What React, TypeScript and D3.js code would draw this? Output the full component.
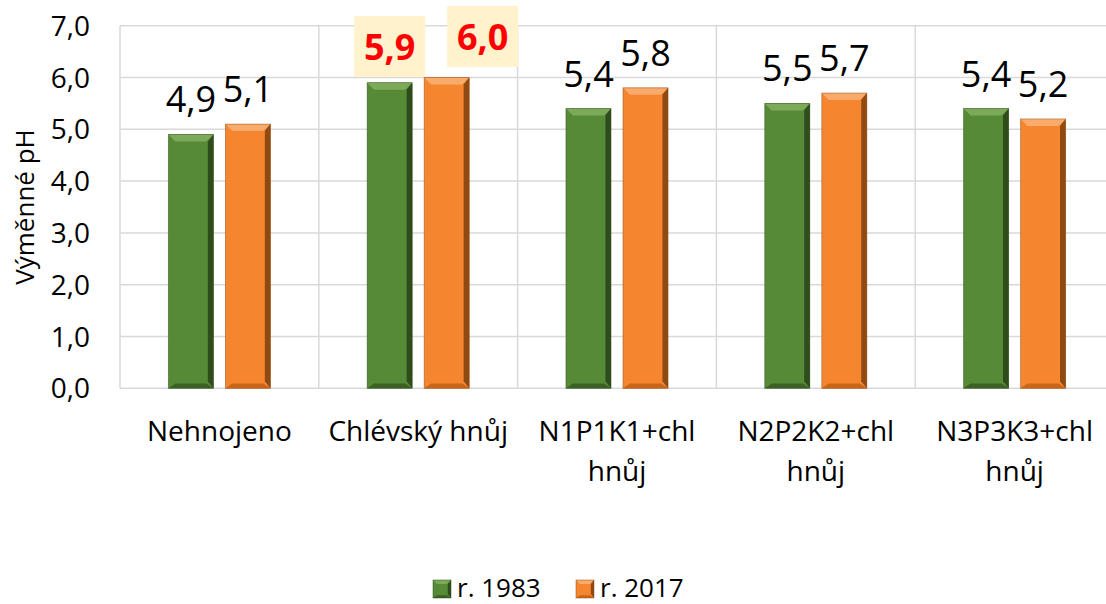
import React from 'react';
import * as d3 from 'd3';

// chart data
const categories = ['Nehnojeno', 'Chlévský hnůj', 'N1P1K1+chl hnůj', 'N2P2K2+chl hnůj', 'N3P3K3+chl hnůj'];
const seriesNames = ['r. 1983', 'r. 2017'];
const values1983 = [4.9, 5.9, 5.4, 5.5, 5.4];
const values2017 = [5.1, 6.0, 5.8, 5.7, 5.2];
const yTicks = [0, 1, 2, 3, 4, 5, 6, 7];
const highlighted = ['Chlévský hnůj'];

const W = 1106;
const H = 604;
const left = 120;
const right = 1114;
const top = 25.7;
const bottom = 388.3;
const FONT = '"Open Sans", "DejaVu Sans", sans-serif';

const palette = [
  { face: '#578a36', light: '#7daa58', dark: '#2f4d1c', edge: '#3c6125' },
  { face: '#f5862f', light: '#f9ab6c', dark: '#8f4a12', edge: '#c96619' },
];

const fmt = (v: number) => v.toFixed(1).replace('.', ',');

// wrap long category names onto two lines
function wrap(label: string): string[] {
  if (label.length <= 13) return [label];
  const i = label.lastIndexOf(' ');
  return [label.slice(0, i), label.slice(i + 1)];
}

function BevelBar({ x, y, w, h, c, b = 7 }: any) {
  const bb = Math.min(b, h / 2, w / 2);
  return (
    <g>
      <rect x={x} y={y} width={w} height={h} fill={c.face} />
      {/* top */}
      <polygon points={`${x},${y} ${x + w},${y} ${x + w - bb},${y + bb} ${x + bb},${y + bb}`} fill={c.light} />
      {/* right */}
      <polygon points={`${x + w},${y} ${x + w - bb * 0.8},${y + bb} ${x + w - bb * 0.8},${y + h - bb} ${x + w},${y + h}`} fill={c.dark} />
      {/* bottom */}
      <polygon points={`${x},${y + h} ${x + bb},${y + h - bb * 0.7} ${x + w - bb},${y + h - bb * 0.7} ${x + w},${y + h}`} fill={c.edge} />
      <rect x={x} y={y} width={w} height={h} fill="none" stroke={c.dark} strokeWidth={0.8} strokeOpacity={0.6} />
    </g>
  );
}

export default function App() {
  const x = d3.scaleBand<string>().domain(categories).range([left, right]).padding(0);
  const xs = d3.scaleBand<string>()
    .domain(seriesNames)
    .range([0, x.bandwidth()])
    .paddingInner(0.21)
    .paddingOuter(0.848);
  const y = d3.scaleLinear().domain([0, 7]).range([bottom, top]);
  const series = [values1983, values2017];

  return (
    <svg width={W} height={H} style={{ position: 'absolute', left: 0, top: 0 }} fontFamily={FONT}>
      <rect width={W} height={H} fill="#fff" />
      {/* horizontal gridlines */}
      {yTicks.map((t) => (
        <line key={t} x1={left} x2={right} y1={y(t)} y2={y(t)} stroke="#d9d9d9" strokeWidth={1.5} />
      ))}
      {/* vertical category separators */}
      {categories.map((c) => (
        <line key={c} x1={(x(c) as number) + x.bandwidth()} x2={(x(c) as number) + x.bandwidth()} y1={top} y2={bottom} stroke="#d9d9d9" strokeWidth={1.5} />
      ))}
      <line x1={left} x2={left} y1={top} y2={bottom} stroke="#d9d9d9" strokeWidth={1.5} />

      {/* y tick labels */}
      {yTicks.map((t) => (
        <text key={t} x={90} y={y(t)} dy="0.36em" textAnchor="end" fontSize={28} fill="#000">{fmt(t)}</text>
      ))}
      <text transform={`translate(34,${(top + bottom) / 2}) rotate(-90)`} textAnchor="middle" fontSize={26} fill="#000">Výměnné pH</text>

      {/* bars */}
      {categories.map((c, i) => (
        <g key={c}>
          {seriesNames.map((s, j) => {
            const v = series[j][i];
            const bx = (x(c) as number) + (xs(s) as number);
            const by = y(v);
            return <BevelBar key={s} x={bx} y={by} w={xs.bandwidth()} h={bottom - by} c={palette[j]} />;
          })}
        </g>
      ))}

      {/* value labels */}
      {categories.map((c, i) => (
        <g key={c}>
          {seriesNames.map((s, j) => {
            const v = series[j][i];
            const cx = (x(c) as number) + (xs(s) as number) + xs.bandwidth() / 2;
            if (highlighted.includes(c)) {
              const dx = j === 1 ? 36 : 0;
              const base = y(v) - (j === 0 ? 22.7 : 27.5);
              return (
                <g key={s}>
                  <rect x={cx + dx - 35.5} y={base - 44} width={71} height={61} fill="#fff2cc" />
                  <text x={cx + dx} y={base} textAnchor="middle" fontSize={36} fontWeight="bold" fill="#ff0000">{fmt(v)}</text>
                </g>
              );
            }
            return (
              <text key={s} x={cx} y={y(v) - 22} textAnchor="middle" fontSize={36} fill="#000">{fmt(v)}</text>
            );
          })}
        </g>
      ))}

      {/* category labels */}
      {categories.map((c) => (
        <text key={c} x={(x(c) as number) + x.bandwidth() / 2} textAnchor="middle" fontSize={28} fill="#000">
          {wrap(c).map((line, k) => (
            <tspan key={k} x={(x(c) as number) + x.bandwidth() / 2} y={441 + k * 40}>{line}</tspan>
          ))}
        </text>
      ))}

      {/* legend */}
      {seriesNames.map((s, j) => {
        const lx = 433 + j * 143;
        return (
          <g key={s}>
            <BevelBar x={lx} y={580} w={18} h={18} c={palette[j]} b={4} />
            <text x={lx + 24} y={597} fontSize={26} fill="#000">{s}</text>
          </g>
        );
      })}
    </svg>
  );
}
